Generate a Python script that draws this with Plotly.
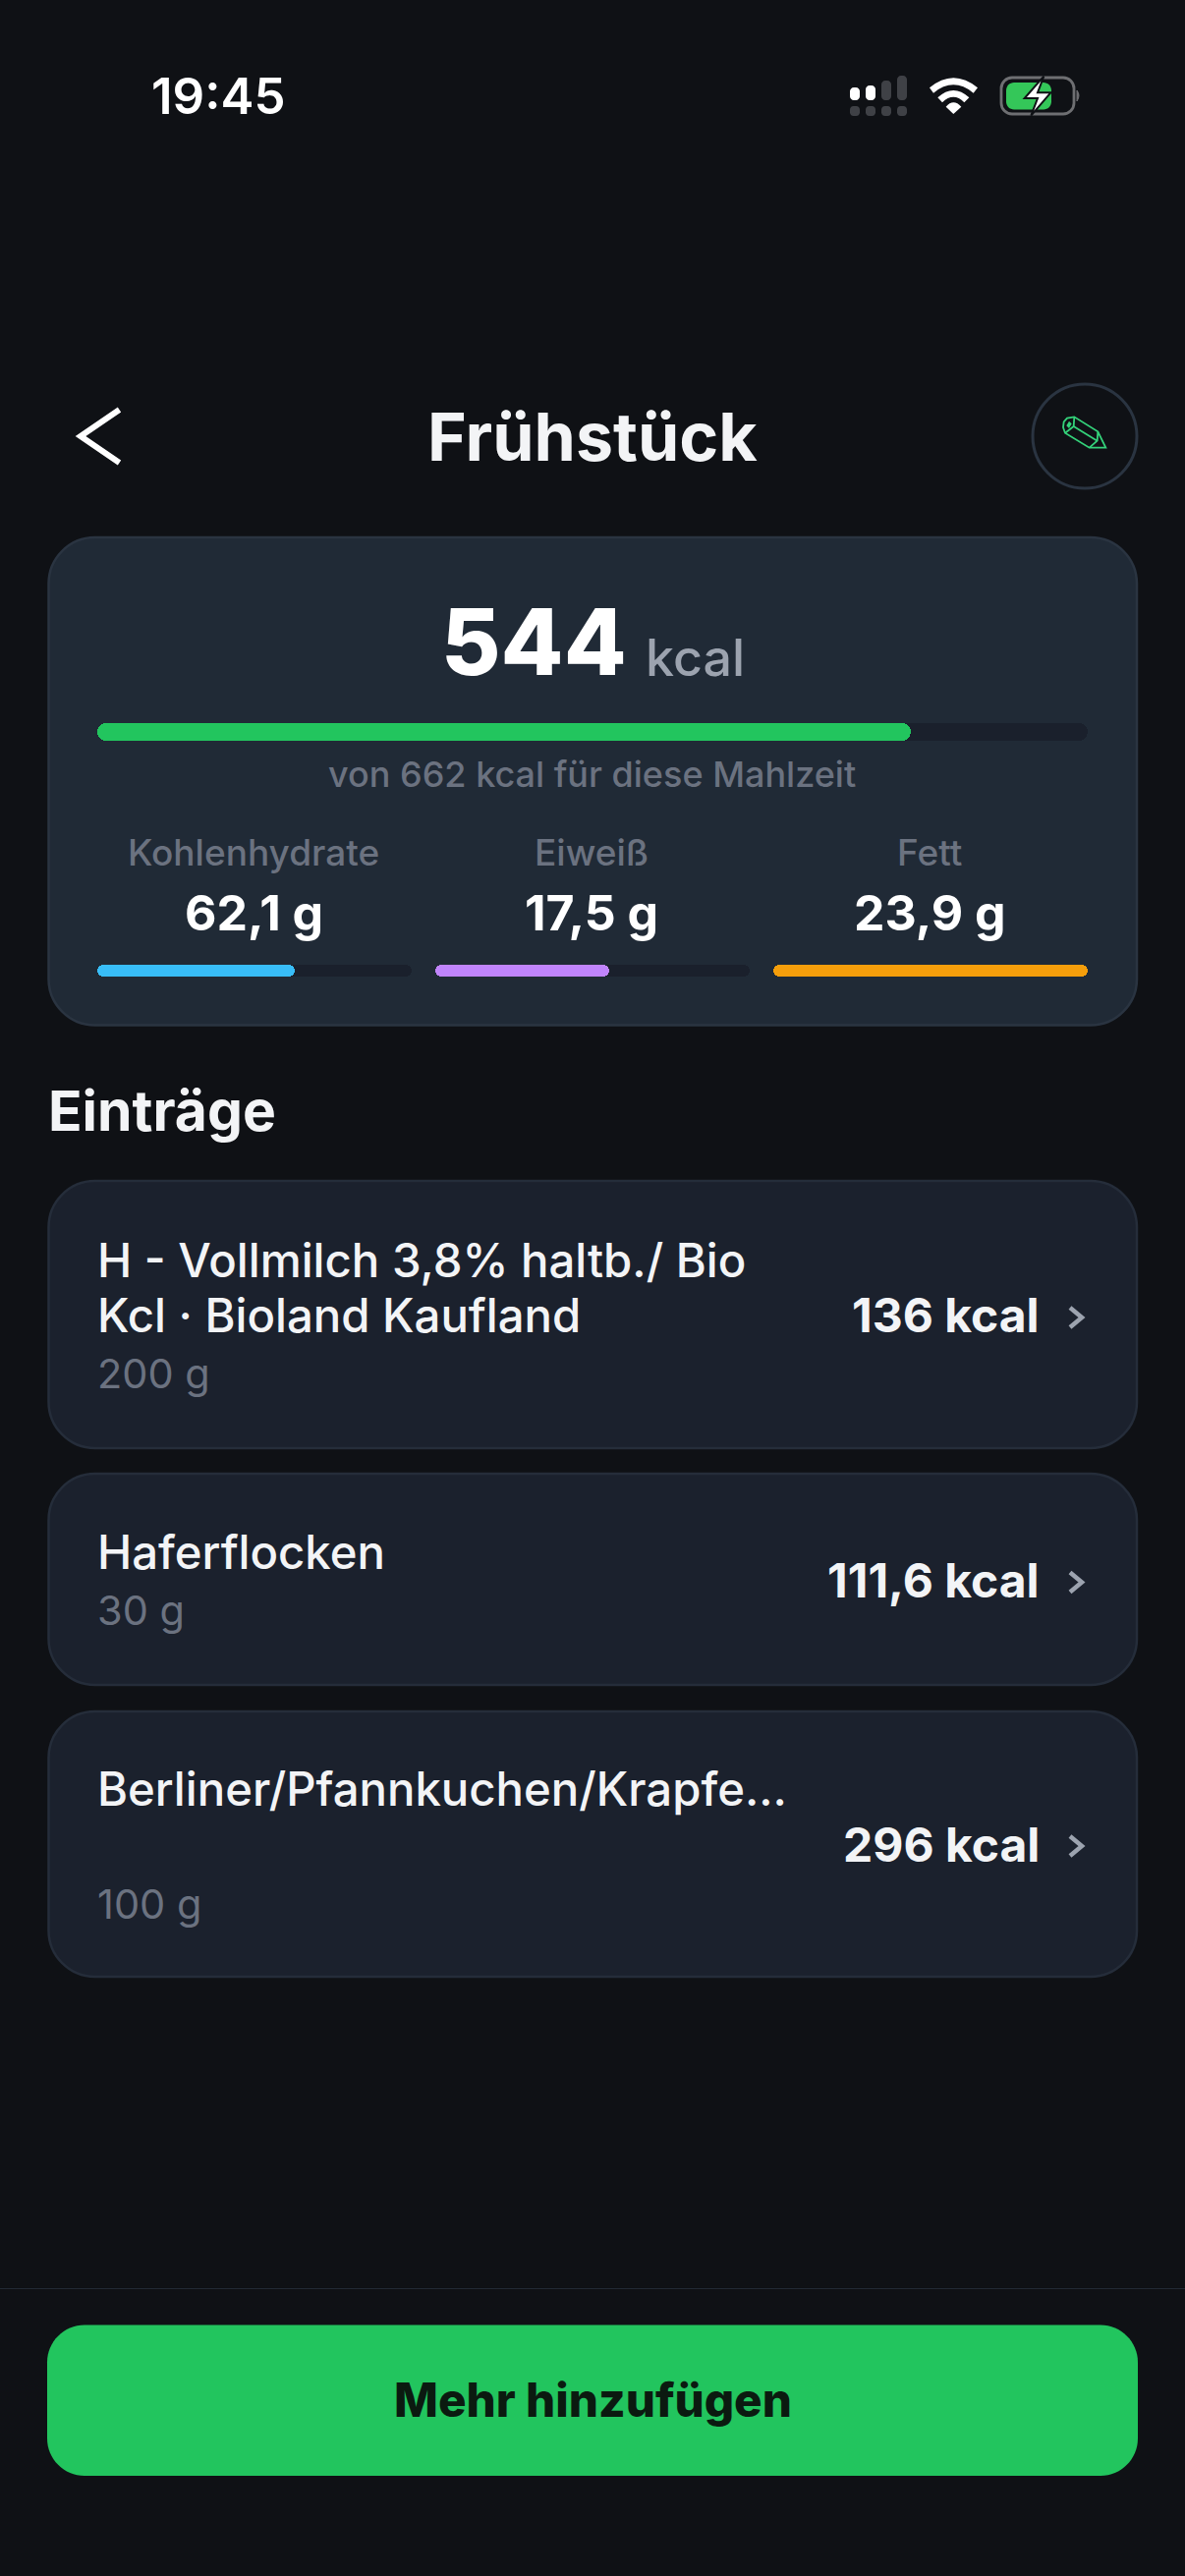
import plotly.graph_objects as go

W, H = 1206, 2622

# ---- data ----
consumed_kcal = 544
goal_kcal = 662
macro_names = ["Kohlenhydrate", "Eiweiß", "Fett"]
macro_values = [62.1, 17.5, 23.9]
macro_goals = [99.0, 31.6, 23.9]
macro_labels = ["62,1 g", "17,5 g", "23,9 g"]
macro_colors = ["#38bdf8", "#c084fc", "#f59e0b"]
entry_names = [["H - Vollmilch 3,8% haltb./ Bio", "Kcl · Bioland Kaufland"], ["Haferflocken"], ["Berliner/Pfannkuchen/Krapfe..."]]
entry_amounts = ["200 g", "30 g", "100 g"]
entry_kcal = ["136 kcal", "111,6 kcal", "296 kcal"]

BG = "#0f1115"
FONT = "Inter"

def px(x): return x / W
def py(y): return 1 - y / H

shapes, annotations = [], []

def pth(d):
    """d: list of commands (cmd, x, y, ...) in screen pixels."""
    out = []
    for seg in d:
        if seg[0] == "Z":
            out.append("Z"); continue
        c = seg[0]; n = seg[1:]
        pts = []
        for i in range(0, len(n), 2):
            pts.append(f"{px(n[i]):.5f},{py(n[i+1]):.5f}")
        out.append(c + " ".join(pts))
    return " ".join(out)

def shape_path(d, fill=None, line=None, lw=0):
    shapes.append(dict(type="path", xref="paper", yref="paper", path=pth(d),
                       fillcolor=fill or "rgba(0,0,0,0)",
                       line=dict(color=line or "rgba(0,0,0,0)", width=lw), layer="below"))

def rrect(x0, y0, x1, y1, r, fill=None, line=None, lw=0):
    shape_path([("M", x0 + r, y0), ("L", x1 - r, y0), ("C", x1 - r*.45, y0, x1, y0 + r*.45, x1, y0 + r),
                ("L", x1, y1 - r), ("C", x1, y1 - r*.45, x1 - r*.45, y1, x1 - r, y1),
                ("L", x0 + r, y1), ("C", x0 + r*.45, y1, x0, y1 - r*.45, x0, y1 - r),
                ("L", x0, y0 + r), ("C", x0, y0 + r*.45, x0 + r*.45, y0, x0 + r, y0), ("Z",)],
               fill, line, lw)

def text(t, x, y, size, color, weight=400, anchor="left", family=FONT):
    annotations.append(dict(text=t, xref="paper", yref="paper", x=px(x), y=py(y), showarrow=False,
                            xanchor=anchor, yanchor="middle", align=anchor,
                            font=dict(family=family, size=size, color=color, weight=weight)))

# ---- cards ----
rrect(49.5, 547, 1157, 1043.5, 47, "#202a36", "#2a3441", 2.5)
rrect(49.5, 1202, 1157, 1474, 47, "#1b212d", "#252d3a", 2.5)
rrect(49.5, 1500, 1157, 1715, 47, "#1b212d", "#252d3a", 2.5)
rrect(49.5, 1742, 1157, 2012, 47, "#1b212d", "#252d3a", 2.5)
# divider and button
shape_path([("M", 0, 2329.5), ("L", W, 2329.5)], None, "#232a35", 1)
rrect(48, 2366.5, 1158, 2520, 38, "#22c55e")

# ---- status bar ----
for (x0, x1, y0) in [(865, 875, 89), (881, 891, 87)]:
    rrect(x0, y0, x1, 102, 4, "#ffffff")
for (x0, x1, y0) in [(897, 907, 82), (913, 923, 77)]:
    rrect(x0, y0, x1, 102, 4, "#3f4146")
for x0 in (865, 881, 897, 913):
    rrect(x0, 108, x0 + 10, 118, 3.5, "#3f4146")

def Z(zx, zy): return (820 + zx / 3, 50 + zy / 3)
shape_path([("M", *Z(378, 118)), ("Q", *Z(451, 58), *Z(525, 118)), ("L", *Z(512, 134)),
            ("Q", *Z(451, 84), *Z(390, 134)), ("Z",)], "#ffffff")
shape_path([("M", *Z(403, 148)), ("Q", *Z(451, 104), *Z(499, 148)), ("L", *Z(484, 163)),
            ("Q", *Z(451, 130), *Z(417, 163)), ("Z",)], "#ffffff")
shape_path([("M", *Z(428, 176)), ("Q", *Z(451, 150), *Z(475, 176)), ("L", *Z(451, 198)), ("Z",)], "#ffffff")

rrect(1019, 79, 1093, 116, 11, None, "#6e6f72", 2.8)
rrect(1024, 84, 1070, 111.5, 8, "#34c759")
shape_path([("M", 1096, 92), ("Q", 1100, 97, 1096, 103), ("Z",)], "#6e6f72", "#6e6f72", 1)
shape_path([("M", *Z(727, 83)), ("L", *Z(668, 150)), ("L", *Z(708, 150)), ("L", *Z(688, 203)),
            ("L", *Z(748, 133)), ("L", *Z(708, 133)), ("Z",)], "#ffffff", BG, 2)

# ---- nav ----
shape_path([("M", 121.5, 417), ("L", 82, 444), ("L", 121.5, 471)], None, "#ffffff", 6)
shapes.append(dict(type="circle", xref="paper", yref="paper", x0=px(1051), x1=px(1157), y0=py(391), y1=py(497),
                   line=dict(color="#2a3441", width=3), fillcolor="rgba(0,0,0,0)", layer="below"))
def P(zx, zy): return (1020 + zx / 3, 370 + zy / 3)
GREEN = "#34d27a"
LW = 1.8
shape_path([("M", *P(188, 178)), ("L", *P(198, 167)), ("L", *P(220, 163)), ("L", *P(292, 208)),
            ("L", *P(316, 257)), ("L", *P(266, 257)), ("L", *P(192, 212)), ("L", *P(186, 195)), ("Z",)],
           None, GREEN, LW)
shape_path([("M", *P(220, 163)), ("L", *P(218, 192)), ("L", *P(192, 212))], None, GREEN, LW)
shape_path([("M", *P(218, 192)), ("L", *P(290, 236))], None, GREEN, LW)
shape_path([("M", *P(292, 208)), ("L", *P(290, 236)), ("L", *P(266, 257))], None, GREEN, LW)
shape_path([("M", *P(204, 176)), ("L", *P(212, 184)), ("L", *P(204, 198)), ("L", *P(196, 190)), ("Z",)], GREEN)

# ---- chevrons ----
for yc in (1341, 1610.5, 1879):
    shape_path([("M", 1089, yc - 10), ("L", 1101, yc), ("L", 1089, yc + 10)], None, "#9ca3af", 4.5)

# ---- text ----
text("19:45", 222.5, 97, 51, "#ffffff", 600, "center")
text("Frühstück", 603, 444, 68, "#f3f4f6", 700, "center")
text(f"{consumed_kcal}", 543.5, 653, 93, "#ffffff", 800, "center")
text("kcal", 707.5, 669, 52, "#9ca3af", 500, "center")
text(f"von {goal_kcal} kcal für diese Mahlzeit", 602, 788, 36, "#6b7280", 500, "center")
for name, lab, cx in zip(macro_names, macro_labels, (258, 602, 946)):
    text(name, cx, 867, 37, "#6b7280", 500, "center")
    text(lab, cx, 929, 50, "#ffffff", 700, "center")
text("Einträge", 47, 1130, 57, "#f3f4f6", 700)

name_ys = [[1282, 1338], [1579], [1820]]
amount_ys = [1398, 1639, 1938]
kcal_ys = [1338, 1608, 1877]
for names, ys, amt, ya, kc, yk in zip(entry_names, name_ys, entry_amounts, amount_ys, entry_kcal, kcal_ys):
    for n, y in zip(names, ys):
        text(n, 97, y, 47.3, "#f3f4f6", 500)
    text(amt, 97, ya, 41.5, "#6b7280", 400)
    text(kc, 1060, yk, 48, "#f3f4f6", 700, "right")
text("Mehr hinzufügen", 603, 2442, 47.6, "#0b1a10", 800, "center")

# ---- progress bars (own axes, driven by the values) ----
fig = go.Figure()
bars = [(99, 1107, 736, 754, consumed_kcal, goal_kcal, "#22c55e", 9)]
for (x0, x1), v, g, c in zip([(99, 419), (443, 763), (787, 1107)], macro_values, macro_goals, macro_colors):
    bars.append((x0, x1, 982, 994, v, g, c, 6))

layout_axes = {}
for i, (x0, x1, y0, y1, v, g, c, r) in enumerate(bars, start=1):
    s = "" if i == 1 else str(i)
    for val, col in ((g, "#1a202c"), (v, c)):
        # two halves growing away from the midpoint, so both ends get rounded
        fig.add_trace(go.Bar(x=[val / 2, -val / 2], y=[0, 0], base=[val / 2, val / 2], orientation="h", width=1,
                             marker=dict(color=col, cornerradius=r, line=dict(width=0)),
                             xaxis=f"x{s}", yaxis=f"y{s}", showlegend=False, hoverinfo="skip"))
        # plain middle section covering the seam between the halves
        fig.add_trace(go.Bar(x=[val / 2], y=[0], base=[val / 4], orientation="h", width=1,
                             marker=dict(color=col, line=dict(width=0)),
                             xaxis=f"x{s}", yaxis=f"y{s}", showlegend=False, hoverinfo="skip"))
    layout_axes[f"xaxis{s}"] = dict(domain=[px(x0), px(x1)], range=[0, g], visible=False, fixedrange=True, anchor=f"y{s}")
    layout_axes[f"yaxis{s}"] = dict(domain=[py(y1), py(y0)], range=[-0.5, 0.5], visible=False, fixedrange=True, anchor=f"x{s}")

fig.update_layout(width=W, height=H, autosize=False, margin=dict(l=0, r=0, t=0, b=0, pad=0),
                  paper_bgcolor=BG, plot_bgcolor="rgba(0,0,0,0)", barmode="overlay", bargap=0,
                  shapes=shapes, annotations=annotations, showlegend=False, font=dict(family=FONT),
                  **layout_axes)

fig.write_html("out.html", config=dict(displayModeBar=False, responsive=False),
               post_script=f"document.body.style.margin='0';document.body.style.background='{BG}';document.documentElement.style.background='{BG}';")
